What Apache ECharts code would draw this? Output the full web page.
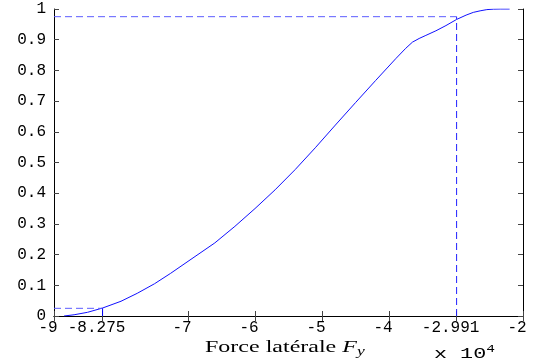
<!DOCTYPE html>
<html>
<head>
<meta charset="utf-8">
<script src="https://cdn.jsdelivr.net/npm/echarts@6/dist/echarts.min.js"></script>
<style>html,body{margin:0;padding:0;background:#fff}#c{width:539px;height:363px}</style>
</head>
<body>
<div id="c"></div>
<script>
// Force latérale (x 10^4) and cumulative probability
const forceValues = [-8.85, -8.7, -8.5, -8.275, -8.0, -7.757, -7.5, -7.259, -7.0, -6.6, -6.3, -6.0, -5.7, -5.4, -5.1, -4.8, -4.5, -4.2, -3.9, -3.75, -3.65, -3.55, -3.45, -3.3, -3.15, -2.991, -2.85, -2.742, -2.64, -2.54, -2.44, -2.34, -2.2];
const probValues  = [0.0, 0.004, 0.012, 0.026, 0.048, 0.074, 0.105, 0.139, 0.178, 0.238, 0.292, 0.350, 0.411, 0.477, 0.548, 0.622, 0.695, 0.767, 0.838, 0.872, 0.892, 0.904, 0.914, 0.929, 0.946, 0.966, 0.980, 0.989, 0.994, 0.998, 0.9995, 1.0, 1.0];
const xTicks = [-9, -8.275, -7, -6, -5, -4, -2.991, -2];
const yTicks = [0, 0.1, 0.2, 0.3, 0.4, 0.5, 0.6, 0.7, 0.8, 0.9, 1];
const lowQuantileX = -8.275, lowQuantileP = 0.025;
const highQuantileX = -2.991, highQuantileP = 0.975;
const xMin = -9, xMax = -2;

const chart = echarts.init(document.getElementById('c'));
const mono = '"Liberation Mono", "Courier New", "DejaVu Sans Mono", monospace';
const hDash = { color: '#5c5cff', width: 1, type: [7, 4] };
const vDash = { color: '#2020ff', width: 1, type: [7, 4] };

const xAxisBase = {
  type: 'value', min: xMin, max: xMax,
  axisLine: { show: true, lineStyle: { color: '#000', width: 1 } },
  splitLine: { show: false },
  axisTick: { show: true, inside: true, length: 5, customValues: xTicks, lineStyle: { color: '#444' } },
};
const yAxisBase = {
  type: 'value', min: 0, max: 1,
  axisLine: { show: true, lineStyle: { color: '#000', width: 1 } },
  splitLine: { show: false },
  axisTick: { show: true, inside: true, length: 5, customValues: yTicks, lineStyle: { color: '#444' } },
};

chart.setOption({
  animation: false,
  grid: { left: 54, right: 16, top: 9, bottom: 47, containLabel: false },
  xAxis: [
    Object.assign({}, xAxisBase, {
      position: 'bottom',
      axisLabel: { show: true, customValues: xTicks, fontFamily: mono, fontSize: 16, color: '#000', margin: 4, padding: [0, 12, 0, 0],
        formatter: v => String(v) }
    }),
    Object.assign({}, xAxisBase, { position: 'top', axisLabel: { show: false } })
  ],
  yAxis: [
    Object.assign({}, yAxisBase, {
      position: 'left',
      axisLabel: { show: true, customValues: yTicks, fontFamily: mono, fontSize: 16, color: '#000', margin: 8,
        formatter: v => String(v) }
    }),
    Object.assign({}, yAxisBase, { position: 'right', axisLabel: { show: false } })
  ],
  graphic: [
    {
      type: 'text', x: 205, y: 337, scaleX: 1.6, scaleY: 1.05,
      style: { text: 'Force latérale {i|F}{s|y}', font: '15px "Liberation Serif"', fill: '#000',
        rich: { i: { fontFamily: 'Liberation Serif', fontStyle: 'italic', fontSize: 15, fill: '#000' },
                s: { fontFamily: 'Liberation Serif', fontStyle: 'italic', fontSize: 11, fill: '#000', padding: [9, 0, 0, 0] } } }
    },
    {
      type: 'text', x: 434, y: 344, scaleX: 1.45,
      style: { text: 'x 10{sup|4}', font: '15px "Liberation Mono", "Courier New", monospace', fill: '#000',
        rich: { sup: { fontFamily: mono, fontSize: 10, fill: '#000', padding: [0, 0, 10, 0] } } }
    }
  ],
  series: [
    { type: 'line', data: forceValues.map((x, i) => [x, probValues[i]]), showSymbol: false, smooth: false,
      lineStyle: { color: '#1010ff', width: 1 } },
    { type: 'line', data: [[xMin, lowQuantileP], [lowQuantileX, lowQuantileP]], showSymbol: false, lineStyle: hDash },
    { type: 'line', data: [[lowQuantileX, 0], [lowQuantileX, lowQuantileP]], showSymbol: false, lineStyle: { color: '#0000ff', width: 1 } },
    { type: 'line', data: [[xMin, highQuantileP], [highQuantileX, highQuantileP]], showSymbol: false, lineStyle: hDash },
    { type: 'line', data: [[highQuantileX, 0], [highQuantileX, highQuantileP]], showSymbol: false, lineStyle: vDash }
  ]
});
</script>
</body>
</html>
